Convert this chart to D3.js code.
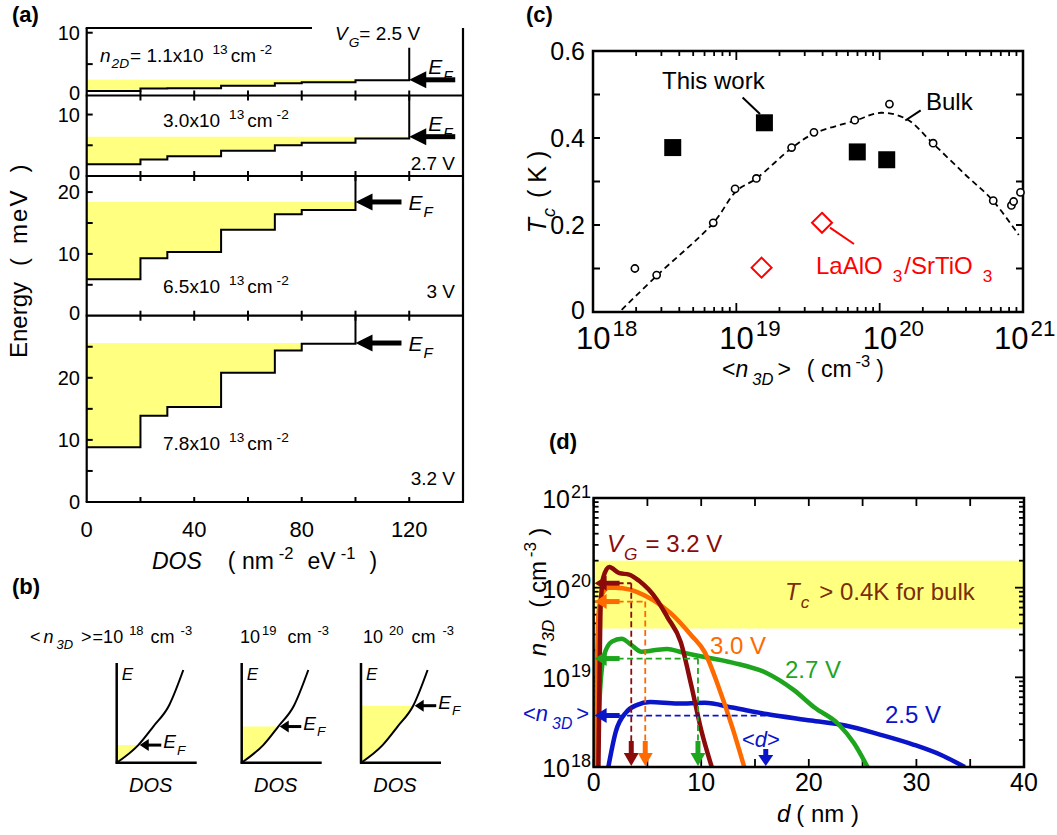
<html>
<head>
    <style>
        body { margin: 0; background: #fff; }
        text { font-family: "Liberation Sans", Arial, Helvetica, sans-serif; fill: #000; }
    </style>
</head>
<body>
<svg id="fig" width="1057" height="835"></svg>
<script src="https://d3js.org/d3.v7.min.js"></script>
<script>
// ---------- data ----------

// (a) subband ladder: DOS edges (nm^-2 eV^-1) and step energies (meV)
const dosEdges = [0, 20, 30, 50, 70, 80, 100, 120];
const steps25 = [0.7, 1.1, 1.15, 1.56, 1.94, 2.1, 2.42];
const steps27 = [1.9, 2.7, 3.2, 4.1, 5.0, 5.4, 6.1];
const steps30 = [5.9, 9.3, 10.3, 13.9, 16.4, 17.1];
const steps32 = [8.8, 13.9, 15.3, 20.8, 24.4, 25.5];
const fermiE = [2.5, 6.4, 18.4, 25.6];
const fermiDos = [120, 120, 100, 100];
const eMax = [10.75, 13.1, 22.6, 30];
const riserTop = [7.6, 13.1, 22.6, 30];
const n2d = ["1.1", "3.0", "6.5", "7.8"];
const vgA = ["2.5 V", "2.7 V", "3 V", "3.2 V"];
const dosTicks = [0, 40, 80, 120];

// (b) schematic 3D DOS, normalised
const bExp = ["18", "19", "20"];
const bFermi = [0.19, 0.39, 0.615];
const bCurveX = [0, 0.324, 0.549, 0.784, 1];
const bCurveE = [0, 0.19, 0.39, 0.615, 1];

// (c) Tc vs <n3D>
const workN = [3.6e18, 1.57e19, 6.98e19, 1.12e20];
const workTc = [0.378, 0.435, 0.368, 0.35];
const bulkN = [1.96e18, 2.78e18, 6.9e18, 9.8e18, 1.38e19, 2.43e19, 3.48e19, 6.7e19, 1.17e20, 2.36e20, 6.2e20, 8.3e20, 8.6e20, 9.6e20];
const bulkTc = [0.1, 0.085, 0.205, 0.283, 0.307, 0.378, 0.413, 0.441, 0.478, 0.388, 0.256, 0.245, 0.254, 0.275];
const fitLogN = [18.2, 18.45, 18.84, 19.0, 19.14, 19.39, 19.54, 19.83, 20.01, 20.19, 20.37, 20.6, 20.79, 20.97];
const fitTc = [0.005, 0.085, 0.205, 0.278, 0.307, 0.378, 0.41, 0.44, 0.458, 0.443, 0.388, 0.315, 0.256, 0.177];
const laoN = [1.5e19, 3.96e19];
const laoTc = [0.102, 0.205];
const decades = [18, 19, 20, 21];
const tcTicks = [0, 0.2, 0.4, 0.6];

// (d) n3D(d) profiles for each gate voltage
const d32 = [0.45, 0.55, 0.65, 0.9, 1.46, 2.4, 3.3, 4.2, 5.9, 6.85, 8.1, 9.07, 10.03, 10.98];
const n32 = [1e18, 1e19, 6e19, 1.3e20, 1.7e20, 1.45e20, 1.4e20, 1.2e20, 7.3e19, 4.7e19, 2.47e19, 8.2e18, 2.5e18, 1e18];
const d30 = [0.2, 0.3, 0.45, 0.8, 1.4, 2.0, 3.4, 4.0, 5.5, 7.16, 9.07, 10.34, 11.6, 12.9, 14.0];
const n30 = [1e18, 1e19, 5e19, 8.5e19, 1.0e20, 1.0e20, 9.5e19, 9e19, 7.3e19, 5.2e19, 2.95e19, 1.9e19, 7.9e18, 2.75e18, 1e18];
const d27 = [0.35, 0.6, 1.0, 1.7, 2.6, 3.5, 4.46, 5.6, 6.84, 8.2, 9.71, 12.9, 16.07, 18.62, 20.53, 22.76, 24.19, 25.46];
const n27 = [1e18, 7e18, 1.8e19, 2.5e19, 2.7e19, 2.3e19, 1.93e19, 2e19, 2.07e19, 1.9e19, 1.74e19, 1.46e19, 1.12e19, 7.2e18, 4.6e18, 3e18, 1.85e18, 1e18];
const d25 = [1.37, 2.07, 3.02, 4.0, 5.25, 7.8, 10.34, 12.9, 16.07, 20.2, 23.4, 26.6, 29.76, 32.3, 34.5];
const n25 = [1e18, 2.5e18, 4.07e18, 4.9e18, 5.3e18, 5.1e18, 5.2e18, 4.6e18, 3.9e18, 3.3e18, 2.9e18, 2.3e18, 1.77e18, 1.36e18, 1e18];
const meanD = [3.5, 4.8, 9.7, 16.0];
const meanN = [1.12e20, 7.0e19, 1.62e19, 3.75e18];
const bandN = [3.5e19, 2e20];
const dTicks = [0, 10, 20, 30, 40];

const yellow = "#ffff80";
const dColors = ["#8b0a0a", "#ff6a00", "#1ea51e", "#0a14c8"];

const svg = d3.select("#fig");

// text with sub/superscripts: parts = [text, kind, dx]
function rich(g, x, y, parts, size) {
    const t = g.append("text").attr("x", x).attr("y", y).attr("font-size", size);
    let shift = 0;
    parts.forEach(p => {
        const kind = p[1];
        let target = 0, fs = size;
        if (kind.includes("sub")) { target = size * 0.35; fs = size * 0.72; }
        if (kind.includes("sup")) { target = -size * 0.42; fs = size * 0.72; }
        const s = t.append("tspan").text(p[0])
            .attr("dy", target - shift).attr("font-size", fs);
        if (p[2]) s.attr("dx", p[2]);
        if (kind[0] === "i") s.attr("font-style", "italic");
        shift = target;
    });
    return t;
}

// filled arrow from (x1,y1) to tip (x2,y2)
function arrow(g, x1, y1, x2, y2, color, w, hl, hw) {
    const len = Math.hypot(x2 - x1, y2 - y1);
    const ux = (x2 - x1) / len, uy = (y2 - y1) / len;
    const bx = x2 - ux * hl, by = y2 - uy * hl;
    g.append("line").attr("x1", x1).attr("y1", y1).attr("x2", bx + ux).attr("y2", by + uy)
        .attr("stroke", color).attr("stroke-width", w);
    g.append("path")
        .attr("d", `M${x2},${y2}L${bx - uy * hw},${by + ux * hw}L${bx + uy * hw},${by - ux * hw}Z`)
        .attr("fill", color);
}

function hline(g, x1, x2, y, w, color) {
    g.append("line").attr("x1", x1).attr("x2", x2).attr("y1", y).attr("y2", y)
        .attr("stroke", color || "#000").attr("stroke-width", w);
}
function vline(g, x, y1, y2, w, color) {
    g.append("line").attr("x1", x).attr("x2", x).attr("y1", y1).attr("y2", y2)
        .attr("stroke", color || "#000").attr("stroke-width", w);
}

// ================= (a) =================
const ga = svg.append("g");
const xa = d3.scaleLinear().domain([0, 140]).range([86.7, 463]);
const subPx = [[28, 95.5], [95.5, 176], [176, 315.7], [315.7, 502]];
const yLabA = [[0, 10], [0, 10], [0, 10, 20], [0, 10, 20]];
const allSteps = [steps25, steps27, steps30, steps32];
const nLabelY = [61.7, 127, 293, 450];
const vgLabelY = [40, 170, 298, 485];

allSteps.forEach((E, i) => {
    const ya = d3.scaleLinear().domain([0, eMax[i]]).range([subPx[i][1], subPx[i][0]]);
    const pts = [];
    E.forEach((e, k) => { pts.push([dosEdges[k], e]); pts.push([dosEdges[k + 1], e]); });
    const xEnd = dosEdges[E.length];
    const line = d3.line().x(d => xa(d[0])).y(d => ya(d[1]));

    // occupied states
    ga.append("path").datum([[0, fermiE[i]]].concat(pts, [[xEnd, fermiE[i]]]))
        .attr("d", line).attr("fill", yellow);
    // step DOS + riser
    ga.append("path").datum(pts.concat([[xEnd, riserTop[i]]]))
        .attr("d", line).attr("fill", "none").attr("stroke", "#000").attr("stroke-width", 2);

    // frame
    vline(ga, xa(0), subPx[i][0], subPx[i][1], 2.2);
    vline(ga, xa(140), subPx[i][0], subPx[i][1], 2.2);
    hline(ga, xa(0) - 1, xa(140) + 1, subPx[i][1], 2.2);
    if (i === 0) hline(ga, xa(0) - 1, 312, subPx[i][0], 2.2);

    // ticks
    d3.range(5, eMax[i], 5).forEach(v => hline(ga, xa(0), xa(0) + 6, ya(v), 2));
    d3.range(20, 140, 20).forEach(v => vline(ga, xa(v), subPx[i][1] - 5, subPx[i][1] + (i < 3 ? 5 : 0), 2));
    yLabA[i].forEach(v => {
        // the zero of an upper panel sits a little high, like the original
        const off = (v === 0 && i < 3) ? 4 : 7;
        ga.append("text").attr("x", 80).attr("y", ya(v) + off).attr("text-anchor", "end")
            .attr("font-size", 20).text(v);
    });

    // Fermi level arrow
    const yf = ya(fermiE[i]);
    const tip = xa(fermiDos[i]);
    arrow(ga, tip + 46, yf, tip, yf, "#000", 5, 17, 8.5);
    if (i < 2) {
        rich(ga, tip + 19, yf - 6, [["E", "i"], ["F", "isub", 1]], 21);
    } else {
        rich(ga, tip + 53, yf + 8, [["E", "i"], ["F", "isub", 1]], 21);
    }

    // carrier density and gate voltage
    const nParts = [[n2d[i] + "x10", "n"], ["13", "sup", 9], ["cm", "n", 3], ["-2", "sup", 4]];
    if (i === 0) {
        rich(ga, 100, nLabelY[i], [["n", "i"], ["2D", "isub", 1], ["= " + n2d[i] + "x10", "n", 1],
            ["13", "sup", 9], ["cm", "n", 3], ["-2", "sup", 4]], 19);
        rich(ga, 335, vgLabelY[i], [["V", "i"], ["G", "isub", 1], ["= " + vgA[i], "n"]], 19);
    } else {
        rich(ga, 163, nLabelY[i], nParts, 19);
        ga.append("text").attr("x", 455).attr("y", vgLabelY[i]).attr("text-anchor", "end")
            .attr("font-size", 19).text(vgA[i]);
    }
});

dosTicks.forEach(v => {
    ga.append("text").attr("x", xa(v)).attr("y", 537).attr("text-anchor", "middle")
        .attr("font-size", 22).text(v);
});
rich(ga, 152, 569, [["DOS", "i"], ["( nm", "n", 26], ["-2", "sup", 5], ["eV", "n", 14],
    ["-1", "sup", 5], [")", "n", 14]], 23);
const eLab = ga.append("g").attr("transform", "translate(27,358) rotate(-90)")
    .append("text").attr("font-size", 24);
eLab.append("tspan").text("Energy");
eLab.append("tspan").attr("dx", 16).text("(");
eLab.append("tspan").attr("dx", 14).attr("letter-spacing", 2).text("meV");
eLab.append("tspan").attr("dx", 16).text(")");

// ================= (b) =================
const gb = svg.append("g");
const bOrigin = [116.7, 241.7, 361];
const bBottom = 762.7;
bExp.forEach((ex, i) => {
    const ox = bOrigin[i];
    const bx = d3.scaleLinear().domain([0, 1]).range([ox, ox + 66.6]);
    const by = d3.scaleLinear().domain([0, 1]).range([bBottom, 670]);
    const pts = bCurveX.map((x, k) => [x, bCurveE[k]]);
    const line = d3.line().x(d => bx(d[0])).y(d => by(d[1])).curve(d3.curveMonotoneX);

    gb.append("clipPath").attr("id", "clipb" + i).append("rect")
        .attr("x", ox).attr("y", by(bFermi[i])).attr("width", 80).attr("height", bBottom - by(bFermi[i]));
    gb.append("path").attr("d", line(pts) + `L${ox},${by(1)}Z`)
        .attr("fill", yellow).attr("clip-path", `url(#clipb${i})`);
    gb.append("path").attr("d", line(pts)).attr("fill", "none")
        .attr("stroke", "#000").attr("stroke-width", 2);

    vline(gb, ox, 663, bBottom + 1, 2.5);
    hline(gb, ox - 1, ox + 80, bBottom, 2.5);

    const xf = d3.scaleLinear().domain(bCurveE).range(bCurveX)(bFermi[i]);
    arrow(gb, bx(xf) + 23, by(bFermi[i]), bx(xf) + 1.5, by(bFermi[i]), "#000", 3, 9, 6);
    rich(gb, bx(xf) + 25, by(bFermi[i]) + 3, [["E", "i"], ["F", "isub", 1]], 19);

    gb.append("text").attr("x", ox + 5).attr("y", 680).attr("font-style", "italic")
        .attr("font-size", 17).text("E");
    gb.append("text").attr("x", ox + 34).attr("y", 792).attr("text-anchor", "middle")
        .attr("font-style", "italic").attr("font-size", 20).text("DOS");
});
rich(gb, 30, 643, [["<", "n"], ["n", "i", 3], ["3D", "isub", 3], [">", "n", 8], ["=10", "n", 1],
    ["18", "sup", 6], ["cm", "n", 7], ["-3", "sup", 6]], 18);
rich(gb, 240, 643, [["10", "n"], ["19", "sup", 2], ["cm", "n", 11], ["-3", "sup", 6]], 18);
rich(gb, 363, 643, [["10", "n"], ["20", "sup", 6], ["cm", "n", 8], ["-3", "sup", 7]], 18);

// ================= (c) =================
const gc = svg.append("g");
const xc = d3.scaleLog().domain([1e18, 1e21]).range([593, 1023]);
const yc = d3.scaleLinear().domain([0, 0.6]).range([312, 51]);

// ticks
d3.range(0, 0.61, 0.1).forEach(v => {
    hline(gc, xc.range()[0], xc.range()[0] + 7, yc(v), 2);
    hline(gc, xc.range()[1] - 7, xc.range()[1], yc(v), 2);
});
decades.slice(0, 3).forEach(dec => {
    d3.range(1, 10).forEach(k => {
        const x = xc(k * Math.pow(10, dec));
        const L = k === 1 ? 9 : 5;
        vline(gc, x, yc(0), yc(0) - L, 1.8);
        vline(gc, x, yc(0.6), yc(0.6) + L, 1.8);
    });
});
gc.append("rect").attr("x", 593).attr("y", 51).attr("width", 430).attr("height", 261)
    .attr("fill", "none").attr("stroke", "#000").attr("stroke-width", 2.5);

tcTicks.forEach(v => {
    gc.append("text").attr("x", 585).attr("y", yc(v) + (v === 0 ? 7 : 8.5)).attr("text-anchor", "end")
        .attr("font-size", 25).text(v);
});
decades.forEach(dec => {
    // last label pulled in so it stays inside the page
    const shift = dec === 21 ? 29 : 17;
    rich(gc, xc(Math.pow(10, dec)) - shift, 349, [["10", "n"], [String(dec), "sup", 2]], 31);
});

// bulk fit
gc.append("path").datum(fitLogN.map((v, k) => [v, fitTc[k]]))
    .attr("d", d3.line().x(d => xc(Math.pow(10, d[0]))).y(d => yc(d[1])).curve(d3.curveCatmullRom))
    .attr("fill", "none").attr("stroke", "#000").attr("stroke-width", 1.8).attr("stroke-dasharray", "6,4");
bulkN.forEach((n, k) => {
    gc.append("circle").attr("cx", xc(n)).attr("cy", yc(bulkTc[k])).attr("r", 3.6)
        .attr("fill", "#fff").attr("stroke", "#000").attr("stroke-width", 1.6);
});
workN.forEach((n, k) => {
    gc.append("rect").attr("x", xc(n) - 8.5).attr("y", yc(workTc[k]) - 8.5)
        .attr("width", 17).attr("height", 17).attr("fill", "#000");
});
laoN.forEach((n, k) => {
    const x = xc(n), y = yc(laoTc[k]);
    gc.append("path").attr("d", `M${x},${y - 10}L${x + 10},${y}L${x},${y + 10}L${x - 10},${y}Z`)
        .attr("fill", "#fff").attr("stroke", "#ff0000").attr("stroke-width", 2);
});

// annotations
gc.append("text").attr("x", 662).attr("y", 89).attr("font-size", 24).text("This work");
gc.append("line").attr("x1", 742.6).attr("y1", 97.6).attr("x2", 760).attr("y2", 114)
    .attr("stroke", "#000").attr("stroke-width", 2);
gc.append("text").attr("x", 926).attr("y", 110).attr("font-size", 24).text("Bulk");
gc.append("line").attr("x1", 920.7).attr("y1", 110.3).attr("x2", 905.3).attr("y2", 120.5)
    .attr("stroke", "#000").attr("stroke-width", 2);
gc.append("line").attr("x1", 830).attr("y1", 227.7).attr("x2", 854).attr("y2", 244)
    .attr("stroke", "#ff0000").attr("stroke-width", 2);
rich(gc, 816, 274, [["LaAlO", "n"], ["3", "sub", 10], ["/SrTiO", "n", 2], ["3", "sub", 10]], 24)
    .selectAll("tspan").style("fill", "#ff0000");

rich(gc, 722, 377, [["<", "n"], ["n", "i"], ["3D", "isub", 4], [">", "n", 4], ["( cm", "n", 16],
    ["-3", "sup", 4], [")", "n", 6]], 23);
rich(gc.append("g").attr("transform", "translate(546,192) rotate(-90)"), 0, 0,
    [["T", "i"], ["c", "isub", 1], ["( K )", "n", 10]], 25).attr("text-anchor", "middle");

// ================= (d) =================
const gd = svg.append("g");
const xd = d3.scaleLinear().domain([0, 40]).range([593.6, 1024]);
const yd = d3.scaleLog().domain([1e18, 1e21]).range([767, 498]);
const [dx0, dx1] = xd.range();
const [dyB, dyT] = yd.range();

gd.append("rect").attr("x", dx0).attr("y", yd(bandN[1])).attr("width", dx1 - dx0)
    .attr("height", yd(bandN[0]) - yd(bandN[1])).attr("fill", yellow);

d3.range(0, 41, 5).forEach(v => {
    vline(gd, xd(v), dyB, dyB - 8, 1.8);
    vline(gd, xd(v), dyT, dyT + 8, 1.8);
});
decades.slice(0, 3).forEach(dec => {
    d3.range(1, 10).forEach(k => {
        const y = yd(k * Math.pow(10, dec));
        const L = k === 1 ? 9 : 5;
        hline(gd, dx0, dx0 + L, y, 1.8);
        hline(gd, dx1 - L, dx1, y, 1.8);
    });
});
hline(gd, dx0, dx0 + 9, dyT, 1.8);

gd.append("clipPath").attr("id", "clipd").append("rect")
    .attr("x", dx0).attr("y", dyT).attr("width", dx1 - dx0).attr("height", dyB - dyT);

const profD = [d32, d30, d27, d25];
const profN = [n32, n30, n27, n25];
const lineD = d3.line().x(d => xd(d[0])).y(d => yd(d[1])).curve(d3.curveMonotoneX);
[3, 2, 1, 0].forEach(i => {
    gd.append("path").datum(profD[i].map((v, k) => [v, profN[i][k]]))
        .attr("d", lineD).attr("fill", "none").attr("stroke", dColors[i])
        .attr("stroke-width", 4.5).attr("stroke-linejoin", "round").attr("clip-path", "url(#clipd)");
});

// mean density and mean depth markers
meanD.forEach((m, i) => {
    const x = xd(m), y = yd(meanN[i]);
    const c = dColors[i];
    gd.append("line").attr("x1", dx0 + 24).attr("x2", x).attr("y1", y).attr("y2", y)
        .attr("stroke", c).attr("stroke-width", 1.8).attr("stroke-dasharray", "6,3.5");
    arrow(gd, dx0 + 26, y, dx0 + 1, y, c, 5, 12, 7.5);
    if (i < 3) {
        gd.append("line").attr("x1", x).attr("x2", x).attr("y1", y).attr("y2", 742)
            .attr("stroke", c).attr("stroke-width", 1.8).attr("stroke-dasharray", "6,3.5");
        arrow(gd, x, 741, x, dyB - 1, c, 5, 13, 7.5);
    } else {
        arrow(gd, x, 749, x, dyB - 1, c, 5, 11, 7.5);
    }
});

gd.append("rect").attr("x", dx0).attr("y", dyT).attr("width", dx1 - dx0).attr("height", dyB - dyT)
    .attr("fill", "none").attr("stroke", "#000").attr("stroke-width", 2.5);

dTicks.forEach(v => {
    gd.append("text").attr("x", xd(v)).attr("y", 791).attr("text-anchor", "middle")
        .attr("font-size", 25).text(v);
});
decades.forEach(dec => {
    rich(gd, 591, yd(Math.pow(10, dec)) + 10, [["10", "n"], [String(dec), "sup", 1]], 25)
        .attr("text-anchor", "end");
});
rich(gd, 777, 822, [["d", "i"], ["( nm )", "n", 6]], 24);
rich(gd.append("g").attr("transform", "translate(546,592) rotate(-90)"), 0, 0,
    [["n", "i"], ["3D", "isub", 1], ["( cm", "n", 12], ["-3", "sup", 4], [")", "n", 6]], 24)
    .attr("text-anchor", "middle");

// curve labels
rich(gd, 607, 552, [["V", "i"], ["G", "isub", 1], ["= 3.2 V", "n", 8]], 24)
    .selectAll("tspan").style("fill", dColors[0]);
rich(gd, 785, 600, [["T", "i"], ["c", "isub", 1], ["> 0.4K for bulk", "n", 10]], 24)
    .selectAll("tspan").style("fill", "#7b2d07");
gd.append("text").attr("x", 710).attr("y", 654).attr("font-size", 24).style("fill", dColors[1]).text("3.0 V");
gd.append("text").attr("x", 785).attr("y", 678).attr("font-size", 24).style("fill", dColors[2]).text("2.7 V");
gd.append("text").attr("x", 885).attr("y", 723).attr("font-size", 24).style("fill", dColors[3]).text("2.5 V");
rich(gd, 742, 747, [["<", "n"], ["d", "i"], [">", "n"]], 22).selectAll("tspan").style("fill", dColors[3]);
rich(gd, 523, 721, [["<", "n"], ["n", "i"], ["3D", "isub", 4], [">", "n", 4]], 22)
    .selectAll("tspan").style("fill", dColors[3]);

// panel letters
[["(a)", 12, 22], ["(b)", 12, 594], ["(c)", 526, 22], ["(d)", 549, 449]].forEach(p => {
    svg.append("text").attr("x", p[1]).attr("y", p[2]).attr("font-size", 22)
        .attr("font-weight", "bold").text(p[0]);
});
</script>
</body>
</html>
